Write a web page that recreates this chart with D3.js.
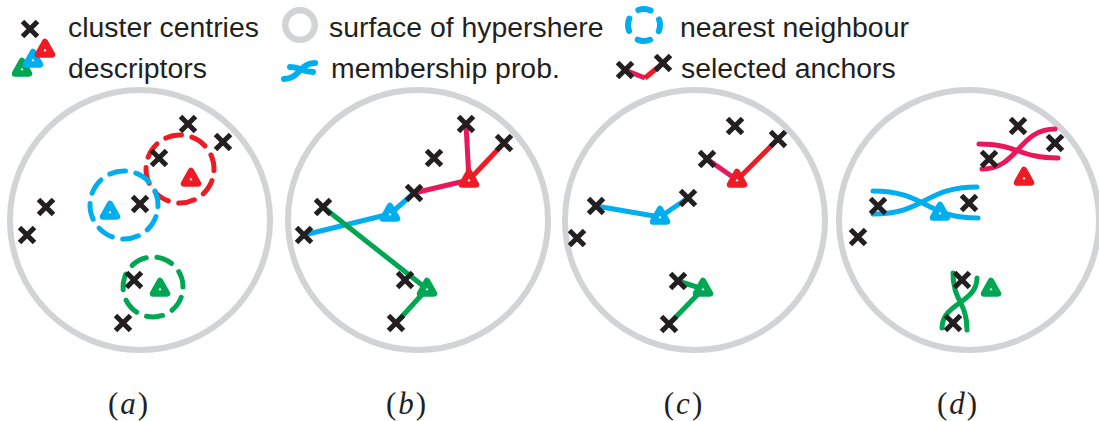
<!DOCTYPE html>
<html>
<head>
<meta charset="utf-8">
<script src="https://cdn.jsdelivr.net/npm/d3@7"></script>
<style>
  body { margin: 0; background: #fff; }
  svg { display: block; }
</style>
</head>
<body>
<div id="chart-area"></div>
<script>
//DATA-----------------------------------------------------------------------
// all positions are in units relative to the centre of each hypersphere
const PANELS = ['a', 'b', 'c', 'd']
const DESC_CLASS = ['r', 'b', 'g']   // red, blue, green descriptor

const crossesA = [[48,-96],[83,-78],[19,-62],[0,-16],[-94,-13],[-113,15],[-6,60],[-17,103]]
const crossesB = [[48,-96],[86,-77],[16,-62],[-4,-27],[-95,-13],[-114,15],[-13,60],[-22,103]]
const crossesC = [[40,-94],[83,-81],[12,-61],[-7,-22],[-99,-14],[-118,18],[-17,61],[-26,104]]
const crossesD = [[49,-94],[86,-77],[20,-61],[0,-17],[-91,-14],[-111,17],[-7,60],[-16,103]]

const descA = [[51,-41],[-30,-8],[20,69]]
const descB = [[51,-40],[-28,-6],[9,69]]
const descC = [[42,-40],[-35,-3],[8,69]]
const descD = [[55,-42],[-29,-7],[22,69]]

// nearest neighbour radius around each descriptor (panel a)
const nnA = [{ d: 0, c: [40,-51], r: 34, n: 8 }, { d: 1, c: [-16,-15], r: 34, n: 8 }, { d: 2, c: [13,67], r: 30, n: 7 }]

// [descriptor, cross, colour key]
const anchorsB = [[0,0,'p'],[0,1,'r'],[0,3,'p'],[1,3,'b'],[1,5,'b'],[2,4,'g'],[2,7,'g']]
const anchorsC = [[0,1,'r'],[0,2,'p'],[1,4,'b'],[1,3,'b'],[2,6,'g'],[2,7,'g']]

// membership probability curves (panel d)
const probD = [
  { k: 'b', dir: 'h', s: [-96,-29], t: [9,-2] },
  { k: 'b', dir: 'h', s: [-96,-6],  t: [8,-33] },
  { k: 'p', dir: 'h', s: [10,-76],  t: [89,-62] },
  { k: 'p', dir: 'h', s: [13,-51],  t: [86,-91] },
  { k: 'g', dir: 'v', s: [-16,53],  t: [-2,110] },
  { k: 'g', dir: 'v', s: [8,58],    t: [-27,108] }
]

const crosses = { a: crossesA, b: crossesB, c: crossesC, d: crossesD }
const descs   = { a: descA, b: descB, c: descC, d: descD }

//SETUP----------------------------------------------------------------------
const WIDTH = 1099, HEIGHT = 421
const INK = '#231f20', GREY = '#d1d3d4'
const SW = 5
const cScale = d3.scaleOrdinal()
  .domain(['r', 'p', 'b', 'g'])
  .range(['#ed1c24', '#e8185a', '#00aeef', '#00a651'])

const svg = d3.select('#chart-area').append('svg')
  .attr('width', WIDTH)
  .attr('height', HEIGHT)

const panelX = d3.scaleOrdinal().domain(PANELS).range([140, 418, 695, 969])
const R = 130
const yScale = d3.scaleLinear().domain([-R, R]).range([220 - R, 220 + R])

const triPath = 'M0,-8L7,4.5L-7,4.5Z'

function drawCross(g, x, y) {
  g.append('path')
    .attr('d', `M${x-7.5},${y-7.5}L${x+7.5},${y+7.5}M${x+7.5},${y-7.5}L${x-7.5},${y+7.5}`)
    .attr('stroke', INK).attr('stroke-width', 5).attr('fill', 'none')
}
function drawTri(g, x, y, col) {
  g.append('path')
    .attr('d', triPath)
    .attr('transform', `translate(${x},${y})`)
    .attr('fill', '#fff').attr('stroke', col)
    .attr('stroke-width', 6.5).attr('stroke-linejoin', 'round')
}

//PANELS---------------------------------------------------------------------
PANELS.forEach(p => {
  const cx = panelX(p)
  const x = d3.scaleLinear().domain([-R, R]).range([cx - R, cx + R])
  const g = svg.append('g').attr('class', 'panel-' + p)

  g.append('circle')
    .attr('cx', x(0)).attr('cy', yScale(0)).attr('r', R)
    .attr('fill', 'none').attr('stroke', GREY).attr('stroke-width', 6)

  if (p === 'a') {
    g.selectAll('.nn').data(nnA).enter().append('circle')
      .attr('class', 'nn')
      .attr('cx', d => x(d.c[0])).attr('cy', d => yScale(d.c[1]))
      .attr('r', d => d.r)
      .attr('fill', 'none')
      .attr('stroke', d => cScale(DESC_CLASS[d.d]))
      .attr('stroke-width', SW)
      .attr('stroke-linecap', 'round')
      .attr('stroke-dasharray', d => { const per = 2 * Math.PI * d.r / d.n; return `${per * 0.6} ${per * 0.4}` })
      .attr('transform', d => `rotate(20,${x(d.c[0])},${yScale(d.c[1])})`)
  }

  const anchors = p === 'b' ? anchorsB : p === 'c' ? anchorsC : []
  g.selectAll('.anchor').data(anchors).enter().append('line')
    .attr('class', 'anchor')
    .attr('x1', d => x(descs[p][d[0]][0])).attr('y1', d => yScale(descs[p][d[0]][1]))
    .attr('x2', d => x(crosses[p][d[1]][0])).attr('y2', d => yScale(crosses[p][d[1]][1]))
    .attr('stroke', d => cScale(d[2])).attr('stroke-width', SW)

  if (p === 'd') {
    const lh = d3.linkHorizontal().x(d => x(d[0])).y(d => yScale(d[1]))
    const lv = d3.linkVertical().x(d => x(d[0])).y(d => yScale(d[1]))
    g.selectAll('.prob').data(probD).enter().append('path')
      .attr('class', 'prob')
      .attr('d', d => (d.dir === 'h' ? lh : lv)({ source: d.s, target: d.t }))
      .attr('fill', 'none').attr('stroke', d => cScale(d.k))
      .attr('stroke-width', SW).attr('stroke-linecap', 'round')
  }

  crosses[p].forEach(c => drawCross(g, x(c[0]), yScale(c[1])))
  descs[p].forEach((d, i) => drawTri(g, x(d[0]), yScale(d[1]), cScale(DESC_CLASS[i])))

  const lab = g.append('text')
    .attr('x', cx - 12).attr('y', 414)
    .attr('text-anchor', 'middle')
    .attr('font-family', 'Liberation Serif, serif')
    .attr('font-size', 31).attr('fill', INK)
  lab.append('tspan').text('(')
  lab.append('tspan').attr('font-style', 'italic').attr('dx', 2).text(p)
  lab.append('tspan').attr('dx', 2).text(')')
})

//LEGEND---------------------------------------------------------------------
const leg = svg.append('g').attr('class', 'legend')
  .attr('font-family', 'Liberation Sans, Arial, sans-serif')
  .attr('font-size', 28.4).attr('fill', INK)

drawCross(leg, 30, 29)
leg.append('text').attr('x', 68).attr('y', 37).text('cluster centries')

leg.append('circle').attr('cx', 300).attr('cy', 25).attr('r', 14.75)
  .attr('fill', 'none').attr('stroke', GREY).attr('stroke-width', 6.5)
leg.append('text').attr('x', 329).attr('y', 37).text('surface of hypershere')

const per4 = 2 * Math.PI * 16 / 4
leg.append('circle').attr('cx', 644).attr('cy', 25).attr('r', 16)
  .attr('fill', 'none').attr('stroke', cScale('b')).attr('stroke-width', 6)
  .attr('stroke-linecap', 'round')
  .attr('stroke-dasharray', `${per4 * 0.5} ${per4 * 0.5}`)
  .attr('stroke-dashoffset', per4 * 0.25)
leg.append('text').attr('x', 680).attr('y', 37).text('nearest neighbour')

drawTri(leg, 22, 69, cScale('g'))
drawTri(leg, 33, 60, cScale('b'))
drawTri(leg, 45, 50, cScale('r'))
leg.append('text').attr('x', 68).attr('y', 78).text('descriptors')

const legLink = d3.linkHorizontal()
leg.selectAll('.lp').data([{ source: [284, 79], target: [315, 63] }, { source: [290, 67], target: [313, 72] }])
  .enter().append('path').attr('class', 'lp')
  .attr('d', legLink)
  .attr('fill', 'none').attr('stroke', cScale('b')).attr('stroke-width', 6).attr('stroke-linecap', 'round')
leg.append('text').attr('x', 331).attr('y', 78).text('membership prob.')

leg.append('line').attr('x1', 625).attr('y1', 70).attr('x2', 645).attr('y2', 78)
  .attr('stroke', cScale('p')).attr('stroke-width', SW)
leg.append('line').attr('x1', 645).attr('y1', 78).attr('x2', 663).attr('y2', 63)
  .attr('stroke', cScale('r')).attr('stroke-width', SW)
drawCross(leg, 625, 70)
drawCross(leg, 663, 63)
leg.append('text').attr('x', 681).attr('y', 78).text('selected anchors')
</script>
</body>
</html>
